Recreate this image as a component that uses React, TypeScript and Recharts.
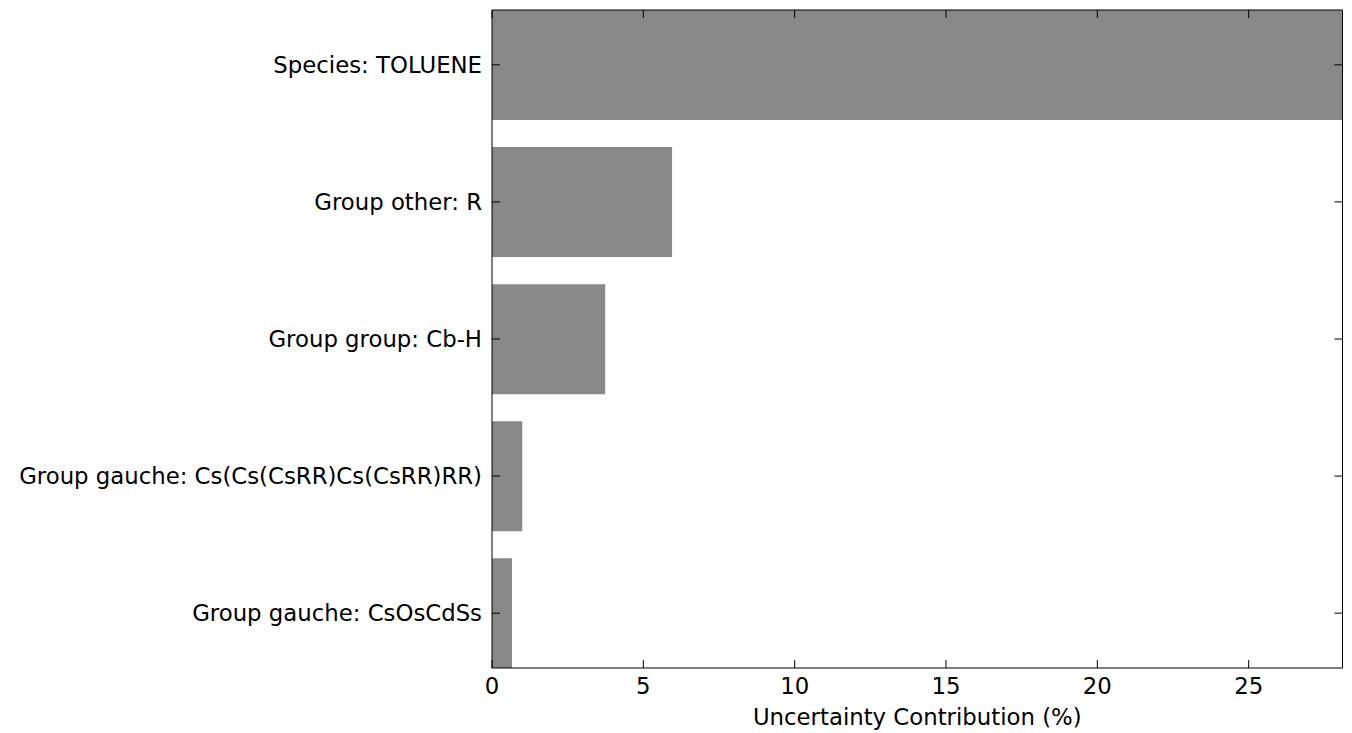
import React from 'react';
import { ComposedChart, Bar, Line, XAxis, YAxis, Label } from 'recharts';

const categories = [
  'Species: TOLUENE',
  'Group other: R',
  'Group group: Cb-H',
  'Group gauche: Cs(Cs(CsRR)Cs(CsRR)RR)',
  'Group gauche: CsOsCdSs',
];
const contributions = [28.1, 5.95, 3.74, 1.0, 0.66];
const xTicks = [0, 5, 10, 15, 20, 25];
const yTicks = [0, 1, 2, 3, 4];

const data = categories.map((name, i) => ({ name, pos: i, value: contributions[i] }));

const font = { fontFamily: '"DejaVu Sans", sans-serif', fontSize: 22.8, fill: '#000' };
const axisLine = { stroke: '#000', strokeWidth: 1 };

const App: React.FC = () => {
  return (
    <div style={{ position: 'absolute', left: 0, top: 0, background: '#fff' }}>
      <ComposedChart
        width={1352}
        height={733}
        data={data}
        layout="vertical"
        margin={{ top: 9, right: 8.5, bottom: 0, left: 0 }}
        barCategoryGap="10%"
      >
        <XAxis
          type="number"
          dataKey="value"
          domain={[0, 28.1]}
          ticks={xTicks}
          allowDataOverflow
          height={65}
          tickSize={-8}
          tickMargin={18}
          tick={font}
          axisLine={axisLine}
          tickLine={axisLine}
        >
          <Label
            value="Uncertainty Contribution (%)"
            position="insideBottom"
            offset={8}
            style={{ ...font, textAnchor: 'middle' }}
          />
        </XAxis>
        <XAxis
          xAxisId="top"
          orientation="top"
          type="number"
          dataKey="value"
          domain={[0, 28.1]}
          ticks={xTicks}
          allowDataOverflow
          height={1}
          tickSize={-8}
          tickFormatter={() => ''}
          axisLine={axisLine}
          tickLine={axisLine}
        />
        <YAxis
          type="number"
          dataKey="pos"
          domain={[-0.4, 4.4]}
          ticks={yTicks}
          allowDataOverflow
          width={492}
          tickSize={-8}
          tickMargin={18}
          tick={font}
          tickFormatter={(i: number) => categories[i] ?? ''}
          interval={0}
          axisLine={axisLine}
          tickLine={axisLine}
        />
        <YAxis
          yAxisId="right"
          orientation="right"
          type="number"
          dataKey="pos"
          domain={[-0.4, 4.4]}
          ticks={yTicks}
          allowDataOverflow
          width={1}
          tickSize={-8}
          tickFormatter={() => ''}
          axisLine={axisLine}
          tickLine={axisLine}
        />
        <Bar dataKey="value" fill="#888888" isAnimationActive={false} />
        <Line
          xAxisId="top"
          yAxisId="right"
          dataKey="value"
          stroke="none"
          dot={false}
          activeDot={false}
          legendType="none"
          isAnimationActive={false}
        />
      </ComposedChart>
    </div>
  );
};

export default App;
